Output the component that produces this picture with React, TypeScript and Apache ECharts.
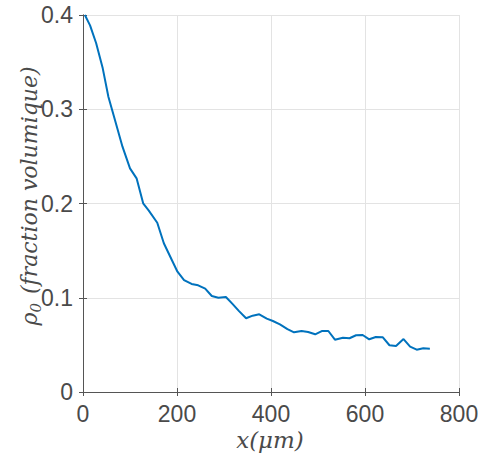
import React, { useEffect, useRef } from "react";
import * as echarts from "echarts";

const xValues = [4, 15, 28, 42, 54, 68, 84, 100, 114, 128, 140, 158, 172, 189, 201, 215, 231, 245, 260, 274, 288, 304, 318, 332, 347, 361, 375, 391, 404, 419, 435, 449, 465, 479, 494, 508, 522, 536, 553, 567, 581, 595, 609, 623, 638, 652, 666, 682, 696, 710, 724, 738];
const yValues = [0.4, 0.389, 0.37, 0.3434, 0.3133, 0.2886, 0.2603, 0.2373, 0.2267, 0.2002, 0.1925, 0.1796, 0.1578, 0.14, 0.1276, 0.1188, 0.1146, 0.1132, 0.1096, 0.1019, 0.1, 0.1008, 0.0935, 0.0858, 0.0782, 0.081, 0.0824, 0.0778, 0.0753, 0.0718, 0.0668, 0.0633, 0.0647, 0.0637, 0.0612, 0.0647, 0.0647, 0.0555, 0.0576, 0.057, 0.0602, 0.0605, 0.0559, 0.0584, 0.058, 0.0496, 0.0488, 0.0562, 0.0481, 0.0449, 0.0464, 0.046];
const xTicks = [0, 200, 400, 600, 800];
const yTicks = [0, 0.1, 0.2, 0.3, 0.4];

export default function App() {
  const ref = useRef<HTMLDivElement>(null);
  useEffect(() => {
    if (!ref.current) return;
    const chart = echarts.init(ref.current, null, { renderer: "svg" });
    const axisColor = "#555555";
    const textColor = "#4a4a4a";
    const serif = "'DejaVu Serif', serif";
    const labelFont = { color: textColor, fontFamily: "'Liberation Sans', Arial, sans-serif", fontSize: 23 };
    const data = xValues.map((x, i) => [x, yValues[i]]);
    chart.setOption({
      animation: false,
      backgroundColor: "#ffffff",
      grid: { left: 83, top: 15, right: 19, bottom: 66, containLabel: false, outerBoundsMode: "none" },
      xAxis: [
        {
          type: "value",
          min: xTicks[0],
          max: xTicks[xTicks.length - 1],
          interval: 200,
          axisLine: { show: true, lineStyle: { color: axisColor, width: 1 } },
          axisTick: { show: true, inside: true, length: 4, lineStyle: { color: axisColor } },
          axisLabel: { ...labelFont, margin: 10 },
          splitLine: { show: true, lineStyle: { color: "#e3e3e3", width: 1 } },
        },
        {
          type: "value",
          position: "top",
          min: 0,
          max: 800,
          interval: 200,
          axisLine: { show: true, lineStyle: { color: axisColor, width: 1 } },
          axisTick: { show: true, inside: true, length: 4, lineStyle: { color: axisColor } },
          axisLabel: { show: false },
          splitLine: { show: false },
        },
      ],
      yAxis: [
        {
          type: "value",
          min: yTicks[0],
          max: yTicks[yTicks.length - 1],
          interval: 0.1,
          axisLine: { show: true, lineStyle: { color: axisColor, width: 1 } },
          axisTick: { show: true, inside: true, length: 4, lineStyle: { color: axisColor } },
          axisLabel: {
            ...labelFont,
            margin: 10,
            formatter: (v: number) => String(+v.toFixed(1)),
          },
          splitLine: { show: true, lineStyle: { color: "#e3e3e3", width: 1 } },
        },
        {
          type: "value",
          position: "right",
          min: 0,
          max: 0.4,
          interval: 0.1,
          axisLine: { show: true, lineStyle: { color: axisColor, width: 1 } },
          axisTick: { show: true, inside: true, length: 4, lineStyle: { color: axisColor } },
          axisLabel: { show: false },
          splitLine: { show: false },
        },
      ],
      graphic: [
        {
          type: "text",
          x: 270,
          y: 440,
          style: {
            text: "x(μm)",
            fontFamily: serif,
            fontStyle: "italic",
            fontSize: 23,
            fill: textColor,
            align: "center",
            verticalAlign: "middle",
          },
        },
        {
          type: "text",
          x: 29,
          y: 196,
          rotation: Math.PI / 2,
          style: {
            text: "{m|ρ}{s|0}{m|(fraction volumique)}",
            fill: textColor,
            align: "center",
            verticalAlign: "middle",
            rich: {
              m: {
                fontFamily: serif,
                fontStyle: "italic",
                fontSize: 22,
                lineHeight: 28,
                fill: textColor,
                verticalAlign: "middle",
              },
              s: {
                fontFamily: serif,
                fontStyle: "italic",
                fontSize: 15,
                lineHeight: 15,
                fill: textColor,
                verticalAlign: "bottom",
                padding: [0, 9, 0, 0],
              },
            },
          },
        },
      ],
      series: [
        {
          type: "line",
          data,
          showSymbol: false,
          symbol: "none",
          clip: true,
          lineStyle: { color: "#0072BD", width: 2 },
          itemStyle: { color: "#0072BD" },
        },
      ],
    });
    return () => chart.dispose();
  }, []);
  return (
    <div
      ref={ref}
      style={{ position: "fixed", left: 0, top: 0, width: 478, height: 458, background: "#fff" }}
    />
  );
}
